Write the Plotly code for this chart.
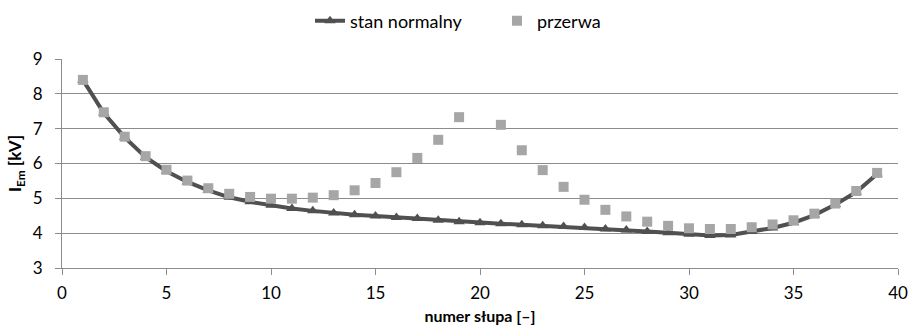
import plotly.graph_objects as go

# numer słupa (pole number)
poles = list(range(1, 40))

# I_Em [kV] – normal operating state
stan_normalny = [8.40, 7.45, 6.75, 6.18, 5.78, 5.47, 5.23, 5.03, 4.90, 4.80,
                 4.71, 4.64, 4.58, 4.53, 4.49, 4.45, 4.42, 4.37, 4.33, 4.30,
                 4.27, 4.24, 4.21, 4.19, 4.16, 4.12, 4.09, 4.05, 4.01, 3.97,
                 3.93, 3.95, 4.05, 4.15, 4.30, 4.52, 4.82, 5.18, 5.70]

# I_Em [kV] – with a break (no value at pole 20)
przerwa = [8.40, 7.47, 6.77, 6.21, 5.82, 5.51, 5.29, 5.13, 5.04, 4.99,
           4.99, 5.02, 5.09, 5.23, 5.44, 5.75, 6.16, 6.68, 7.33, None,
           7.11, 6.38, 5.81, 5.33, 4.96, 4.67, 4.48, 4.33, 4.21, 4.14,
           4.12, 4.12, 4.17, 4.25, 4.37, 4.56, 4.85, 5.21, 5.73]

x_ticks = [0, 5, 10, 15, 20, 25, 30, 35, 40]
y_ticks = [3, 4, 5, 6, 7, 8, 9]

FONT = "Lato, Open Sans, sans-serif"
GRID = "#8c8c8c"

fig = go.Figure()
fig.add_trace(go.Scatter(
    x=poles, y=stan_normalny, name="stan normalny", mode="lines+markers",
    line=dict(color="#505050", width=4),
    marker=dict(symbol="triangle-up", size=10, color="#505050"),
))
fig.add_trace(go.Scatter(
    x=poles, y=przerwa, name="przerwa", mode="markers",
    marker=dict(symbol="square", size=10, color="#a6a6a6",
                line=dict(width=0)),
))

fig.update_layout(
    width=910, height=332,
    margin=dict(l=62, r=12, t=59, b=64, autoexpand=False),
    paper_bgcolor="white", plot_bgcolor="white",
    font=dict(family=FONT, size=17, color="#000000"),
    showlegend=True,
    legend=dict(orientation="h", xref="container", yref="container",
                x=310 / 910, xanchor="left", y=1 - 21 / 332, yanchor="middle",
                font=dict(size=18), itemwidth=30,
                entrywidth=142, entrywidthmode="pixels"),
)

fig.update_xaxes(
    range=[0, 40], tickvals=x_ticks, ticktext=[str(v) for v in x_ticks],
    showgrid=False, zeroline=False, automargin=False,
    showline=True, linecolor=GRID, linewidth=1,
    ticks="outside", ticklen=6, tickcolor=GRID, ticklabelstandoff=4,
    tickfont=dict(size=17),
    title=dict(text="<b>numer słupa [–]</b>", font=dict(size=16), standoff=8),
)
fig.update_yaxes(
    range=[3, 9], tickvals=y_ticks, ticktext=[str(v) for v in y_ticks],
    showgrid=True, gridcolor=GRID, gridwidth=1, zeroline=False, automargin=False,
    showline=True, linecolor=GRID, linewidth=1,
    ticks="outside", ticklen=6, tickcolor=GRID, ticklabelstandoff=9,
    tickfont=dict(size=17),
    title=dict(text="<b>I<sub>Em</sub> [kV]</b>", font=dict(size=17), standoff=6),
)

fig.write_html("out.html")
